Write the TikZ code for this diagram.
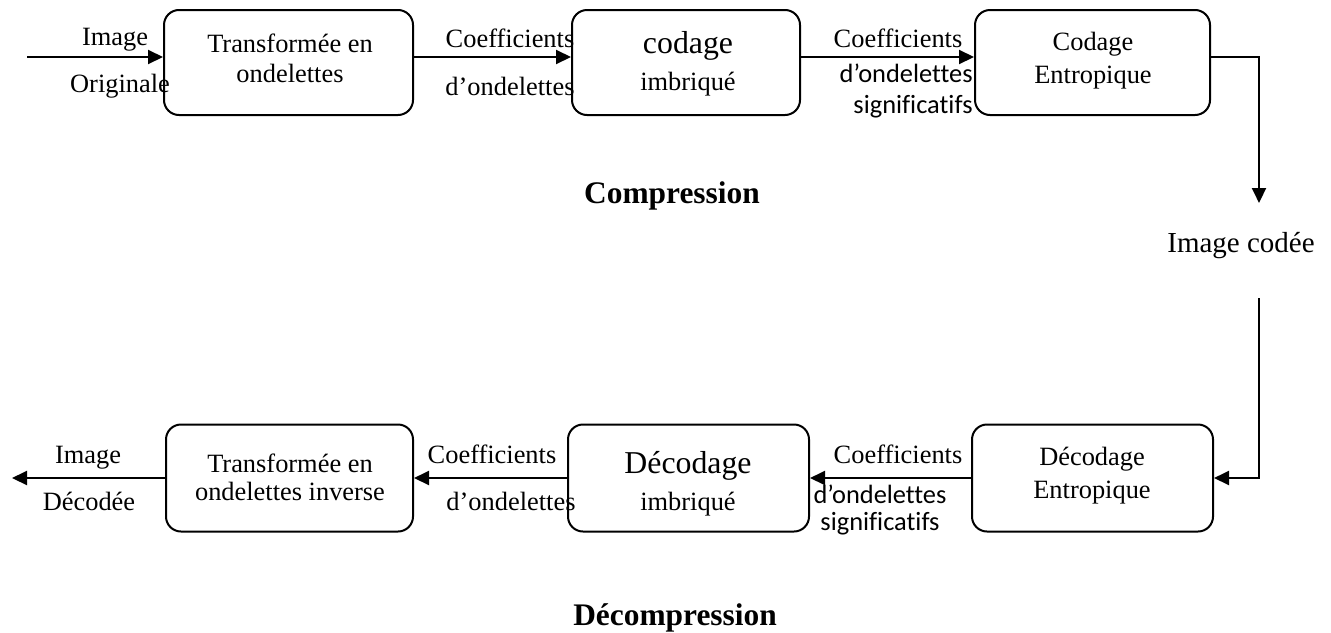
\documentclass[tikz,border=0pt]{standalone}
\usepackage{fontspec}
\setmainfont{Liberation Serif}
\newfontfamily\calfont[Ligatures=NoCommon]{Carlito}
\usetikzlibrary{arrows.meta}
\begin{document}
\begin{tikzpicture}[x=0.5pt,y=-0.5pt,
  box/.style={draw, line width=1pt, rounded corners=7.5pt, inner sep=0pt},
  toprow/.style={box, minimum height=52.5pt},
  botrow/.style={box, minimum height=53.5pt},
  lbl/.style={anchor=base, inner sep=0pt, font=\fontsize{13.2}{15}\selectfont},
  big/.style={lbl, font=\fontsize{15.9}{18}\selectfont},
  sanslbl/.style={anchor=base east, inner sep=0pt, font=\calfont\fontsize{13.2}{15}\selectfont},
  title/.style={anchor=base, inner sep=0pt, font=\bfseries\fontsize{15.7}{18}\selectfont},
  arr/.style={line width=1pt, -{Triangle[length=7.5pt,width=7pt]}}]
\useasboundingbox (0,0) rectangle (1331,632);

% compression chain
\node[toprow, minimum width=124.5pt] (b1) at (288.5,62.5) {};
\node[toprow, minimum width=114pt]   (b2) at (686,62.5) {};
\node[toprow, minimum width=117.5pt] (b3) at (1092.5,62.5) {};

\node[lbl] (b1a) at (290,52) {Transformée en};
\node[lbl] (b1b) at (290,82) {ondelettes};
\node[big] (b2a) at (688,53) {codage};
\node[lbl] (b2b) at (688,90) {imbriqué};
\node[lbl] (b3a) at (1093,50) {Codage};
\node[lbl] (b3b) at (1093,83) {Entropique};

% decompression chain
\node[botrow, minimum width=120.5pt] (b4) at (1092.5,478) {};
\node[botrow, minimum width=120.5pt] (b5) at (688.5,478) {};
\node[botrow, minimum width=123.5pt] (b6) at (289.5,478) {};

\node[lbl] (b4a) at (1092,465) {Décodage};
\node[lbl] (b4b) at (1092,498) {Entropique};
\node[big] (b5a) at (688,473) {Décodage};
\node[lbl] (b5b) at (688,510) {imbriqué};
\node[lbl] (b6a) at (290,472) {Transformée en};
\node[lbl] (b6b) at (290,500) {ondelettes inverse};

% connectors
\coordinate (in) at (27,57);
\coordinate (c1) at (1259,203);
\coordinate (c2) at (1259,298);
\coordinate (out) at (12,478);

\draw[arr] (in) -- (in -| b1.west);
\draw[arr] (in -| b1.east) -- (in -| b2.west);
\draw[arr] (in -| b2.east) -- (in -| b3.west);
\draw[arr] (in -| b3.east) -| (c1);
\draw[arr] (c2) |- (b4.east);
\draw[arr] (b4.west) -- (b5.east);
\draw[arr] (b5.west) -- (b6.east);
\draw[arr] (b6.west) -- (out);

% connector labels
\node[lbl] (l1) at (115,45) {Image};
\node[lbl] (l2) at (120,92) {Originale};
\node[lbl] (l3) at (510,47) {Coefficients};
\node[lbl] (l4) at (510,95) {d’ondelettes};
\node[lbl] (l5) at (898,47) {Coefficients};
\node[sanslbl] (l6) at (973,82) {d’ondelettes};
\node[sanslbl] (l7) at (973,113) {significatifs};
\node[lbl, font=\fontsize{14.5}{17}\selectfont] (l8) at (1241,252) {Image codée};

\node[lbl] (l9) at (898,463) {Coefficients};
\node[lbl, font=\calfont\fontsize{13.2}{15}\selectfont] (l10) at (880,503) {d’ondelettes};
\node[lbl, font=\calfont\fontsize{13.2}{15}\selectfont] (l11) at (880,530) {significatifs};
\node[lbl] (l12) at (492,463) {Coefficients};
\node[lbl] (l13) at (511,510) {d’ondelettes};
\node[lbl] (l14) at (88,463) {Image};
\node[lbl] (l15) at (89,510) {Décodée};

% section titles
\node[title] (t1) at (672,203) {Compression};
\node[title] (t2) at (675,625) {Décompression};
\end{tikzpicture}
\end{document}
